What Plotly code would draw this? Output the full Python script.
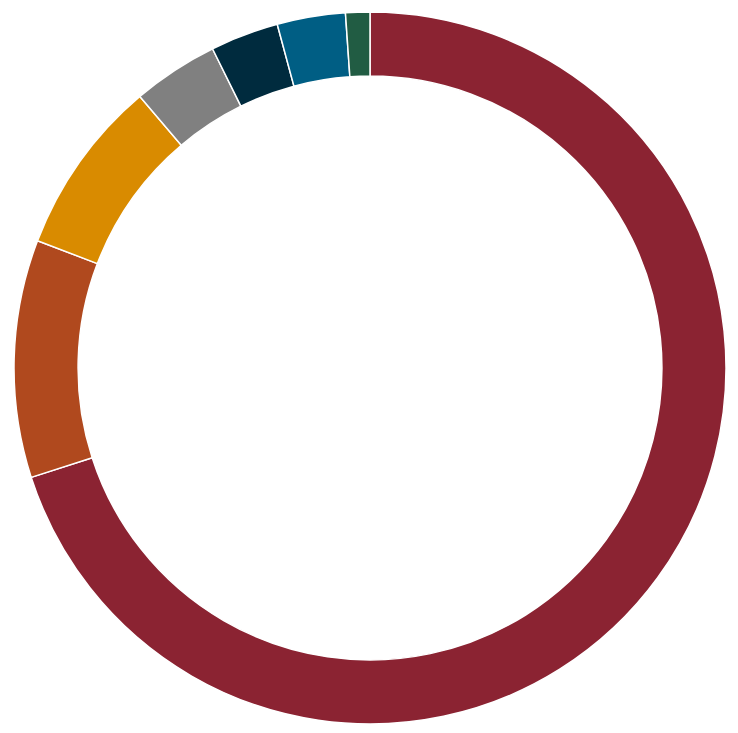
import plotly.graph_objects as go

labels = ["A", "B", "C", "D", "E", "F", "G"]
values = [70.1, 10.8, 8.0, 3.9, 3.1, 3.1, 1.1]
colors = ["#8B2332", "#B0491E", "#D98B00", "#808080", "#002B3E", "#005E84", "#215C43"]

fig = go.Figure(go.Pie(
    labels=labels,
    values=values,
    hole=0.82,
    sort=False,
    direction="clockwise",
    rotation=0,
    textinfo="none",
    hoverinfo="label+percent",
    marker=dict(colors=colors, line=dict(color="white", width=1.5)),
))
fig.update_layout(
    width=738, height=733,
    margin=dict(l=6, r=20, t=4, b=17),
    showlegend=False,
    paper_bgcolor="white", plot_bgcolor="white",
)
fig.write_html("out.html")
